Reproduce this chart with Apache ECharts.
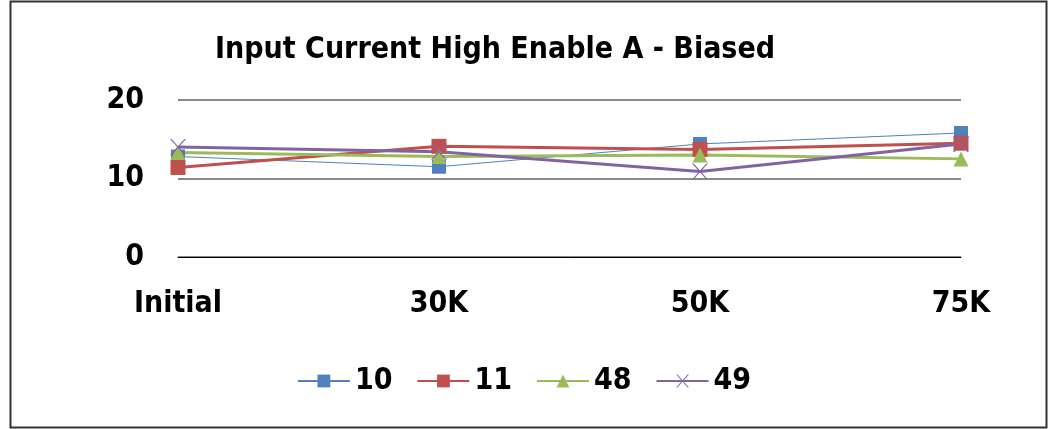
<!DOCTYPE html>
<html>
<head>
<meta charset="utf-8">
<script src="https://cdn.jsdelivr.net/npm/echarts@6/dist/echarts.min.js"></script>
<style>
  html, body { margin: 0; padding: 0; background: #fff; }
  #chart { width: 1048px; height: 429px; }
</style>
</head>
<body>
<div id="chart"></div>
<script>
// readings
var categories = ['Initial', '30K', '50K', '75K'];
var s10 = [12.8, 11.5, 14.4, 15.8];
var s11 = [11.4, 14.1, 13.7, 14.5];
var s48 = [13.3, 12.8, 13.0, 12.5];
var s49 = [14.0, 13.4, 10.9, 14.4];
var yTicks = [0, 10, 20];

var font = '"Liberation Sans Narrow", "DejaVu Sans Condensed", Arial, sans-serif';

var chart = echarts.init(document.getElementById('chart'));

function line(name, data, color, width, symbol, size) {
    return {
        name: name,
        type: 'line',
        data: data,
        symbol: symbol,
        symbolSize: size,
        lineStyle: { color: color, width: width },
        itemStyle: { color: color },
        animation: false
    };
}

chart.setOption({
    backgroundColor: '#fff',
    title: {
        text: 'Input Current High Enable A - Biased',
        left: 210,
        top: 30,
        textStyle: { fontFamily: font, fontWeight: 'bold', fontSize: 30, color: '#000' }
    },
    grid: { left: 178, right: 87, top: 100, bottom: 172 },
    legend: {
        bottom: 28,
        left: 'center',
        itemWidth: 52,
        itemHeight: 16,
        itemGap: 24,
        textStyle: { fontFamily: font, fontWeight: 'bold', fontSize: 30, color: '#000' },
        data: ['10', '11', '48', '49']
    },
    xAxis: {
        type: 'category',
        data: categories,
        boundaryGap: false,
        axisLine: { lineStyle: { color: '#000', width: 1 } },
        axisTick: { show: false },
        axisLabel: { fontFamily: font, fontWeight: 'bold', fontSize: 30, color: '#000', margin: 32 }
    },
    yAxis: {
        type: 'value',
        min: yTicks[0],
        max: yTicks[yTicks.length - 1],
        interval: 10,
        axisLine: { show: false },
        axisTick: { show: false },
        splitLine: { lineStyle: { color: '#888', width: 2 } },
        axisLabel: { fontFamily: font, fontWeight: 'bold', fontSize: 30, color: '#000', margin: 34 }
    },
    series: [
        line('10', s10, '#4f81bd', 1, 'rect', 14),
        line('11', s11, '#c0504d', 3, 'rect', 15),
        line('48', s48, '#9bbb59', 3, 'triangle', 15),
        line('49', s49, '#8064a2', 3, 'path://M0,0 L2,0 L10,8 L18,0 L20,0 L11,9 L20,18 L18,18 L10,10 L2,18 L0,18 L9,9 Z', 16)
    ],
    graphic: [{
        type: 'rect',
        shape: { x: 10.5, y: 1.5, width: 1036, height: 426 },
        style: { fill: null, stroke: '#333', lineWidth: 2 },
        silent: true
    }]
});
</script>
</body>
</html>
